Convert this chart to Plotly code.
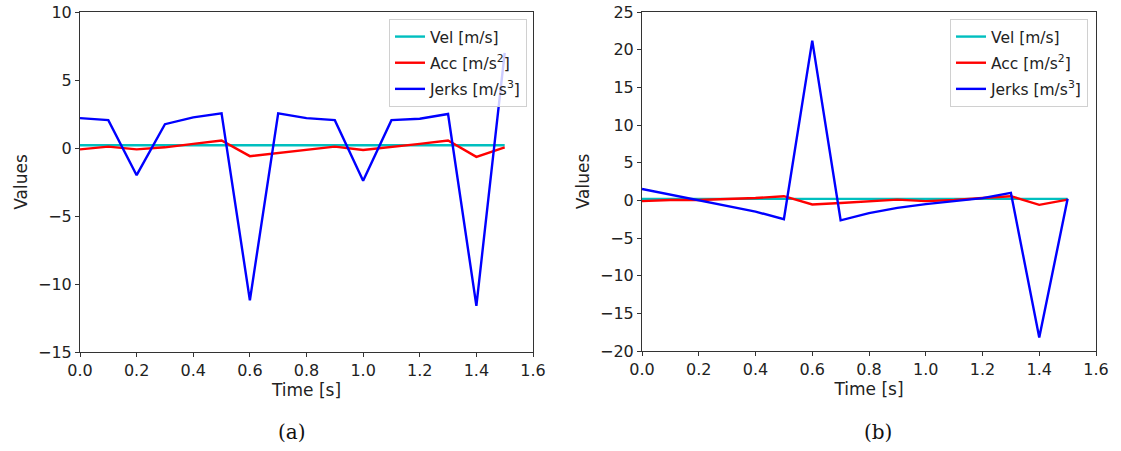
import plotly.graph_objects as go

time_s = [0.0, 0.1, 0.2, 0.3, 0.4, 0.5, 0.6, 0.7, 0.8, 0.9, 1.0, 1.1, 1.2, 1.3, 1.4, 1.5]

# (a)
vel_a = [0.2, 0.2, 0.2, 0.2, 0.22, 0.25, 0.22, 0.2, 0.2, 0.2, 0.2, 0.2, 0.2, 0.22, 0.2, 0.2]
acc_a = [-0.1, 0.1, -0.1, 0.05, 0.3, 0.55, -0.6, -0.35, -0.1, 0.1, -0.15, 0.05, 0.3, 0.55, -0.65, 0.05]
jerk_a = [2.2, 2.05, -2.0, 1.75, 2.25, 2.55, -11.2, 2.55, 2.2, 2.05, -2.4, 2.05, 2.15, 2.5, -11.6, 7.0]

# (b)
vel_b = [0.2, 0.2, 0.2, 0.2, 0.22, 0.25, 0.22, 0.2, 0.2, 0.2, 0.2, 0.2, 0.2, 0.22, 0.2, 0.2]
acc_b = [-0.1, 0.05, 0.05, 0.15, 0.3, 0.55, -0.55, -0.35, -0.1, 0.1, -0.1, 0.05, 0.3, 0.55, -0.6, 0.1]
jerk_b = [1.5, 0.75, 0.0, -0.7, -1.5, -2.5, 21.2, -2.65, -1.7, -1.0, -0.5, -0.1, 0.3, 1.0, -18.2, 0.2]

names = ["Vel [m/s]", "Acc [m/s<sup>2</sup>]", "Jerks [m/s<sup>3</sup>]"]
colors = ["#00BFBF", "#FF0000", "#0000FF"]

W, H = 1121, 451
font = "DejaVu Sans"

fig = go.Figure()
for idx, (series, xa, ya, lg) in enumerate([
    ((vel_a, acc_a, jerk_a), "x", "y", "legend"),
    ((vel_b, acc_b, jerk_b), "x2", "y2", "legend2"),
]):
    for k, (s, n, c) in enumerate(zip(series, names, colors)):
        fig.add_trace(go.Scatter(x=time_s, y=s, mode="lines", name=n,
                                 line=dict(color=c, width=2.4),
                                 legendgroup=f"{lg}_{k}",
                                 xaxis=xa, yaxis=ya, legend=lg))

def px_x(p):
    return p / W

def px_y(p):
    return 1 - p / H

axis_common = dict(showline=True, linecolor="#333333", linewidth=1, mirror=True,
                   ticks="outside", ticklen=4, tickcolor="#333333", showgrid=False,
                   zeroline=False, automargin=False, ticklabeloverflow="allow",
                   tickfont=dict(family=font, size=16, color="#222222"),
                   title_font=dict(family=font, size=17, color="#222222"))

legend_common = dict(xanchor="right", yanchor="top",
                     bgcolor="rgba(255,255,255,0.8)", bordercolor="#D0D0D0", borderwidth=1,
                     font=dict(family=font, size=15.5, color="#222222"), tracegroupgap=3,
                     itemwidth=30)

fig.update_layout(
    width=W, height=H,
    margin=dict(l=0, r=0, t=0, b=0),
    paper_bgcolor="white", plot_bgcolor="white",
    font=dict(family=font, color="#222222"),
    xaxis=dict(domain=[px_x(80), px_x(533)], range=[0, 1.6], dtick=0.2, tickformat=".1f",
               title=dict(text="Time [s]", standoff=2), anchor="y", **axis_common),
    yaxis=dict(domain=[px_y(352), px_y(12)], range=[-15, 10], dtick=5,
               title=dict(text="Values", standoff=6), anchor="x", **axis_common),
    xaxis2=dict(domain=[px_x(642), px_x(1096)], range=[0, 1.6], dtick=0.2, tickformat=".1f",
                title=dict(text="Time [s]", standoff=2), anchor="y2", **axis_common),
    yaxis2=dict(domain=[px_y(351), px_y(12)], range=[-20, 25], dtick=5,
                title=dict(text="Values", standoff=6), anchor="x2", **axis_common),
    legend=dict(x=px_x(527), y=px_y(19), **legend_common),
    legend2=dict(x=px_x(1088), y=px_y(19), **legend_common),
    annotations=[
        dict(text="(a)", x=px_x(292), y=px_y(432), xref="paper", yref="paper",
             xanchor="center", yanchor="middle",
             showarrow=False, font=dict(family="DejaVu Serif", size=20, color="#111111")),
        dict(text="(b)", x=px_x(878), y=px_y(432), xref="paper", yref="paper",
             xanchor="center", yanchor="middle",
             showarrow=False, font=dict(family="DejaVu Serif", size=20, color="#111111")),
    ],
)

# remove the default 8px page margin so the figure fills the 1121x451 window exactly
fig.write_html("out.html", config={"displayModeBar": False},
               post_script="document.body.style.margin='0px';document.body.style.overflow='hidden';")
